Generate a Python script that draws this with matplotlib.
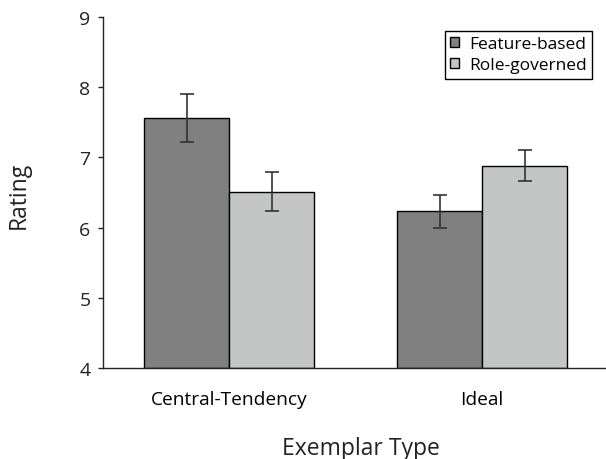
import matplotlib
matplotlib.use("Agg")
import matplotlib.pyplot as plt
import numpy as np

categories = ["Central-Tendency", "Ideal"]
series_names = ["Feature-based", "Role-governed"]
feature_vals = [7.56, 6.23]
feature_err = [0.34, 0.24]
role_vals = [6.51, 6.88]
role_err = [0.28, 0.22]
yticks = [4, 5, 6, 7, 8, 9]

plt.rcParams['font.family'] = ['Open Sans', 'DejaVu Sans']

W, H = 606, 460
fig = plt.figure(figsize=(W/100, H/100), dpi=100)
ax = fig.add_axes([103/W, 1-369/H, (W-103)/W, (369-18)/H])

x = np.arange(len(categories))
w = 0.336
ekw = dict(ecolor='#333333', elinewidth=1.2, capsize=5, capthick=1.2)
ax.bar(x - w/2, np.array(feature_vals) - 4, w, bottom=4, color='#808080',
       edgecolor='black', linewidth=1.0, label=series_names[0])
ax.bar(x + w/2, np.array(role_vals) - 4, w, bottom=4, color='#c4c6c5',
       edgecolor='black', linewidth=1.0, label=series_names[1])
ax.errorbar(x - w/2, feature_vals, yerr=feature_err, fmt='none', **ekw)
ax.errorbar(x + w/2, role_vals, yerr=role_err, fmt='none', **ekw)

ax.set_ylim(4, 9)
ax.set_xlim(-0.5, 1.49)
ax.set_yticks(yticks)
ax.set_yticklabels([str(t) for t in yticks], fontsize=14)
ax.set_xticks(x)
ax.set_xticklabels(categories, fontsize=13.8)
ax.tick_params(axis='x', length=0, pad=16)
ax.tick_params(axis='y', length=3.5, width=1, direction='out', pad=5.5, colors='#222222')
for s in ['top', 'right']:
    ax.spines[s].set_visible(False)
for s in ['left', 'bottom']:
    ax.spines[s].set_linewidth(1.0)
    ax.spines[s].set_color('#222222')

fig.text(19/W, 1-195/H, "Rating", rotation=90, fontsize=16.5,
         ha='center', va='center', color='#222222')
fig.text(361/W, 1-455/H, "Exemplar Type", fontsize=16.5,
         ha='center', va='baseline', color='#222222')

leg = ax.legend(loc='upper right', fontsize=12.5,
                frameon=True, fancybox=False, edgecolor='black', framealpha=1,
                handlelength=0.5, handleheight=0.5, handletextpad=0.6,
                borderpad=0.3, labelspacing=0.3, borderaxespad=0.0)
leg.get_frame().set_linewidth(1.0)
ax_w = W - 103
ax_h = 369 - 18
leg.set_bbox_to_anchor(((592-103)/ax_w, (369-32)/ax_h), transform=ax.transAxes)

fig.savefig("out.png", dpi=100)
